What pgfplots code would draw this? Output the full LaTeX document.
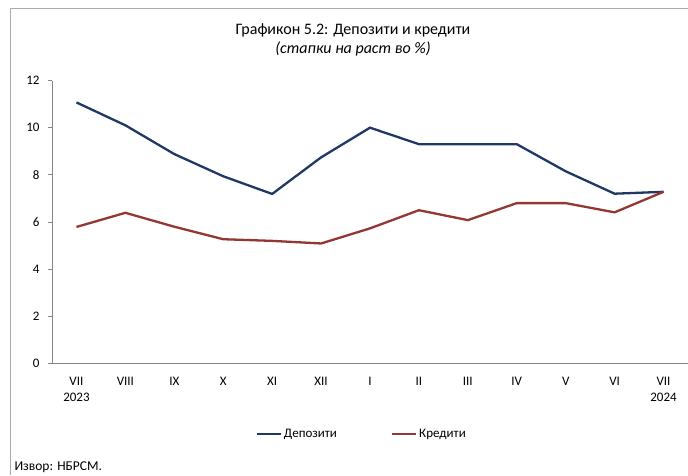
\documentclass[border=0pt]{standalone}
\usepackage{pgfplots}
\pgfplotsset{compat=1.18}
\usepackage{fontspec}
\setmainfont{Carlito}
\definecolor{depblue}{HTML}{1F3864}
\definecolor{credred}{HTML}{943634}
\definecolor{axgray}{HTML}{868686}
\begin{document}
\begin{tikzpicture}
\useasboundingbox (0,0) rectangle (688pt,475pt);
\draw[axgray!70, line width=0.8pt] (10pt,0) -- (10pt,467pt) -- (688pt,467pt);
\node[font=\fontsize{16}{18}\selectfont] at (353pt,445pt) {Графикон 5.2: Депозити и кредити};
\node[font=\fontsize{16}{18}\selectfont\itshape] at (353pt,426pt) {(стапки на раст во \%)};
\node[anchor=west, font=\fontsize{13.5}{15}\selectfont] at (11pt,8pt) {Извор: НБРСМ.};
\begin{axis}[
  at={(52pt,111.5pt)}, anchor=south west,
  scale only axis, width=636pt, height=283pt,
  xmin=-0.5, xmax=12.5, ymin=0, ymax=12,
  axis x line=bottom, axis y line=left,
  axis line style={axgray, line width=0.8pt, -},
  ytick={0,2,...,12},
  xtick={0,...,12},
  xticklabels={{VII\\2023},VIII,IX,X,XI,XII,I,II,III,IV,V,VI,{VII\\2024}},
  x tick label style={align=center, font=\fontsize{13}{16}\selectfont, anchor=north, yshift=-6pt},
  y tick label style={font=\fontsize{13}{15}\selectfont, xshift=-5pt},
  /pgf/number format/assume math mode=true,
  major x tick style={draw=none},
  extra x ticks={-0.5,0.5,...,11.5},
  extra x tick labels={},
  extra x tick style={major tick style={draw=axgray, line width=0.8pt}, tick align=outside, major tick length=4pt},
  y tick style={draw=axgray, line width=0.8pt},
  tick align=outside, major tick length=4pt,
  legend style={at={(0.487,-0.249)}, anchor=center, draw=none, fill=none,
    legend columns=2, font=\fontsize{13}{15}\selectfont,
    /tikz/every even column/.append style={column sep=52pt}},
  legend image code/.code={\draw[#1] (0pt,0pt) -- (24pt,0pt);},
]
\addplot[depblue, line width=2.3pt] coordinates {
(0,11.07) (1,10.1) (2,8.88) (3,7.94) (4,7.19) (5,8.74) (6,10.0)
(7,9.3) (8,9.3) (9,9.3) (10,8.15) (11,7.2) (12,7.28)};
\addplot[credred, line width=2.3pt] coordinates {
(0,5.79) (1,6.39) (2,5.8) (3,5.27) (4,5.2) (5,5.09) (6,5.73)
(7,6.5) (8,6.08) (9,6.8) (10,6.8) (11,6.41) (12,7.28)};
\legend{Депозити, Кредити}
\end{axis}
\end{tikzpicture}
\end{document}
